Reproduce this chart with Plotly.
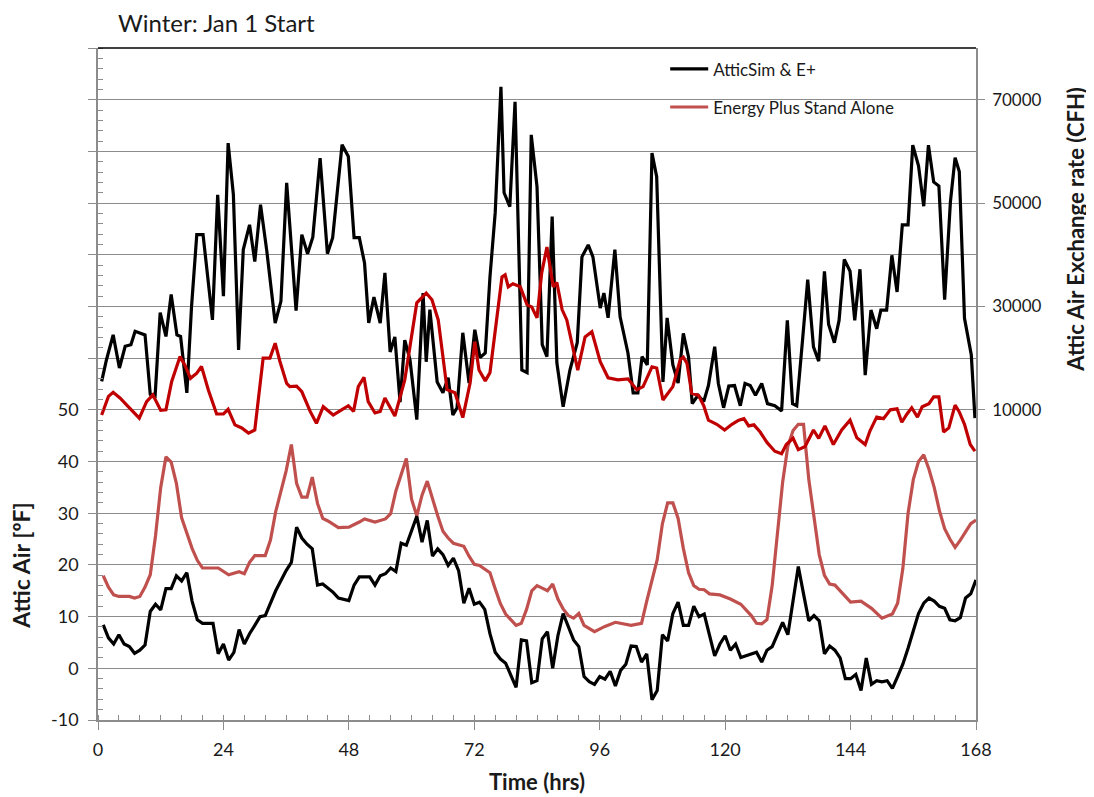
import plotly.graph_objects as go

# attic air temperature (degF), AtticSim & E+
sim_temp_hr = [1, 2, 3, 4, 5, 6, 7, 8, 9, 10, 11, 12, 13, 14, 15, 16, 17, 18, 19, 20, 22, 23, 24, 25, 26, 27,
               28, 29, 30, 31, 32, 33, 34, 36, 37, 38, 39, 40, 41, 42, 43, 45, 46, 48, 49, 50, 52, 53, 54, 55,
               56, 57, 58, 59, 60, 61, 62, 63, 64, 65, 66, 67, 68, 69, 70, 71, 72, 73, 74, 75, 76, 77, 78, 80,
               81, 82, 83, 84, 85, 86, 87, 88, 89, 90, 91, 92, 93, 94, 95, 96, 97, 98, 99, 100, 101, 102, 103,
               104, 105, 106, 107, 108, 109, 110, 111, 112, 113, 114, 115, 116, 117, 118, 119, 120, 121, 122,
               123, 124, 126, 127, 128, 129, 130, 131, 132, 133, 134, 135, 136, 137, 138, 139, 140, 141, 142,
               143, 144, 145, 146, 147, 148, 149, 150, 151, 152, 153, 154, 155, 156, 157, 158, 159, 160, 161,
               162, 163, 164, 165, 166, 167, 168]
sim_temp = [8.4, 5.9, 4.7, 6.5, 4.7, 4.2, 2.9, 3.5, 4.5, 11.0, 12.4, 11.3, 15.4, 15.4, 17.9, 16.9, 18.5, 13.0,
            9.4, 8.7, 8.7, 2.8, 4.7, 1.6, 3.1, 7.5, 4.7, 6.7, 8.3, 10.0, 10.2, 12.6, 15.0, 18.9, 20.5, 27.3,
            25.2, 24.0, 23.1, 16.1, 16.3, 14.7, 13.6, 13.1, 16.1, 17.7, 17.7, 16.1, 17.9, 18.3, 19.4, 18.7,
            24.2, 23.8, 26.4, 29.4, 24.4, 28.6, 21.7, 23.1, 22.0, 19.9, 21.3, 18.9, 12.6, 15.5, 12.4, 12.8,
            11.4, 6.7, 3.1, 1.8, 1.0, -3.7, 5.5, 5.3, -2.8, -2.4, 5.7, 7.1, 0.0, 6.3, 10.6, 7.9, 5.5, 4.2,
            -1.6, -2.6, -3.1, -1.6, -2.1, -0.6, -3.4, -0.4, 0.8, 4.3, 4.2, 1.2, 2.8, -6.1, -4.3, 6.5, 5.3,
            10.6, 12.8, 8.3, 8.3, 12.0, 10.0, 10.5, 6.3, 2.4, 4.7, 6.3, 3.5, 4.7, 2.1, 2.4, 3.1, 1.2, 3.5,
            4.2, 6.7, 8.9, 6.5, 13.0, 19.7, 14.4, 9.2, 10.2, 9.2, 2.8, 4.3, 3.5, 2.0, -2.0, -2.0, -1.2, -4.3,
            2.0, -3.1, -2.4, -2.6, -2.4, -3.9, -1.6, 0.8, 3.9, 7.1, 10.6, 12.6, 13.6, 13.0, 12.0, 11.6, 9.4,
            9.2, 9.8, 13.6, 14.4, 17.1]

# attic air temperature (degF), Energy Plus stand alone
ep_temp_hr = [1, 2, 3, 4, 6, 7, 8, 9, 10, 11, 12, 13, 14, 15, 16, 18, 19, 20, 23, 25, 27, 28, 29, 30, 32, 33,
              34, 36, 37, 38, 39, 40, 41, 42, 43, 44, 46, 48, 50, 51, 53, 55, 56, 57, 59, 60, 61, 62, 63, 64,
              65, 66, 67, 68, 69, 70, 71, 72, 73, 75, 76, 77, 78, 79, 80, 81, 82, 83, 84, 85, 86, 87, 88, 89,
              90, 91, 92, 93, 95, 97, 99, 102, 104, 105, 106, 107, 108, 109, 110, 111, 112, 113, 114, 115, 116,
              117, 119, 121, 123, 125, 126, 127, 128, 129, 130, 131, 132, 133, 134, 135, 136, 137, 138, 139,
              140, 141, 142, 143, 144, 146, 148, 150, 152, 153, 154, 155, 156, 157, 158, 159, 160, 161, 162,
              163, 164, 165, 166, 167, 168]
ep_temp = [17.9, 15.7, 14.2, 13.9, 13.9, 13.6, 13.9, 15.7, 18.1, 25.6, 35.0, 40.9, 39.9, 35.8, 29.1, 23.2, 20.9,
           19.4, 19.4, 18.1, 18.7, 18.3, 20.5, 21.8, 21.8, 24.8, 30.3, 38.2, 43.3, 35.8, 33.1, 33.1, 37.0,
           31.9, 29.0, 28.5, 27.2, 27.3, 28.3, 28.9, 28.3, 28.9, 29.9, 34.3, 40.6, 32.7, 29.5, 33.5, 36.2,
           32.7, 29.5, 26.5, 25.2, 24.2, 23.9, 23.6, 21.7, 20.1, 19.9, 18.5, 15.4, 12.5, 10.5, 9.4, 8.3, 8.7,
           11.4, 15.0, 16.0, 15.5, 15.0, 16.3, 13.4, 11.5, 10.2, 9.7, 10.6, 8.3, 7.1, 8.1, 8.9, 8.3, 8.7,
           13.0, 17.0, 21.0, 28.0, 32.0, 32.0, 29.0, 23.2, 18.5, 16.0, 15.3, 15.2, 14.4, 14.2, 13.4, 12.4,
           10.2, 8.7, 8.6, 9.4, 16.0, 26.0, 36.0, 43.0, 46.0, 47.2, 47.2, 36.6, 29.0, 22.0, 18.0, 16.3, 16.1,
           15.0, 13.8, 12.8, 13.0, 11.6, 9.7, 10.5, 12.6, 19.3, 30.0, 36.5, 40.0, 41.3, 38.5, 35.0, 30.5,
           27.0, 25.0, 23.4, 24.8, 26.5, 28.0, 28.7]

# attic air exchange rate (CFH), AtticSim & E+
sim_cfh_hr = [0.7, 1.6, 2.9, 4.1, 5.2, 6.3, 7.1, 9.0, 10.0, 10.9, 11.9, 13.0, 14.0, 15.1, 15.8, 17.0, 17.9,
              18.9, 20.1, 21.9, 22.9, 24.0, 24.9, 25.9, 26.9, 27.8, 29.0, 30.0, 31.1, 32.3, 33.9, 35.0, 36.1,
              37.9, 39.0, 40.1, 41.1, 42.5, 43.9, 44.9, 46.7, 47.9, 49.0, 50.0, 51.0, 51.8, 52.8, 54.0, 54.9,
              55.9, 56.8, 57.8, 58.7, 59.7, 61.0, 62.2, 62.8, 63.5, 64.9, 66.0, 67.0, 67.9, 68.7, 69.8, 71.0,
              72.1, 73.1, 74.1, 75.0, 76.0, 77.1, 77.7, 78.8, 79.8, 81.1, 82.1, 82.9, 84.0, 85.0, 85.9, 86.9,
              87.8, 89.0, 90.3, 91.7, 92.6, 93.8, 94.7, 96.1, 96.8, 97.6, 98.9, 99.9, 101.4, 102.4, 103.3,
              104.1, 105.1, 106.0, 106.9, 108.1, 108.9, 110.0, 111.0, 112.0, 113.0, 113.7, 114.8, 115.9, 116.8,
              118.0, 118.7, 119.7, 120.7, 121.8, 122.9, 123.8, 124.8, 125.8, 127.0, 128.1, 129.5, 130.8, 131.9,
              132.9, 133.7, 134.8, 135.8, 136.9, 137.9, 139.0, 139.8, 140.9, 141.8, 142.8, 143.9, 144.8, 145.8,
              146.8, 147.9, 149.0, 149.8, 150.9, 151.9, 152.9, 153.9, 155.0, 155.9, 157.0, 158.0, 158.9, 159.9,
              160.9, 162.0, 163.1, 164.0, 164.8, 165.8, 167.1, 167.8]
sim_cfh = [15500, 19600, 24500, 18100, 22300, 22600, 25200, 24500, 13000, 12300, 28800, 24200, 32300, 24500,
           24200, 13300, 30000, 43900, 43900, 27400, 51600, 32000, 61600, 51700, 21600, 41000, 45800, 38700,
           49700, 40700, 26800, 31000, 53900, 29200, 43900, 40200, 43400, 58700, 40200, 43300, 61300, 59000,
           43300, 43300, 38400, 26800, 31800, 26800, 36500, 21200, 24100, 11500, 23500, 19700, 8100, 32600,
           19300, 29400, 15400, 13300, 16200, 9000, 10400, 24900, 15200, 25500, 20100, 21000, 35700, 48100,
           72500, 52000, 49300, 69600, 17700, 17200, 63200, 53200, 22600, 20300, 47400, 19100, 10600, 17700,
           23000, 39600, 41900, 39600, 29700, 32600, 27800, 41000, 28000, 21000, 13300, 13300, 20300, 18700,
           59700, 55100, 15400, 27800, 18700, 15200, 24800, 20200, 11200, 12800, 11600, 14700, 22200, 15100,
           10400, 14600, 14700, 10800, 15100, 14700, 12800, 15100, 11200, 10800, 9800, 27300, 11200, 10800,
           23400, 35200, 22200, 19400, 36800, 26500, 23000, 27300, 39100, 36800, 27300, 37200, 16700, 29300,
           25700, 29300, 29300, 39900, 32800, 45800, 45800, 61200, 57200, 49400, 61200, 54100, 53300, 31300,
           50200, 58800, 56100, 27700, 20600, 8400]

# attic air exchange rate (CFH), Energy Plus stand alone
ep_cfh_hr = [0.7, 2.0, 2.9, 4.2, 6.1, 7.9, 9.3, 10.5, 12.0, 13.0, 14.1, 15.7, 16.6, 17.7, 18.9, 19.8, 21.1,
             22.7, 24.0, 24.9, 26.2, 27.5, 28.8, 30.0, 31.6, 32.9, 33.9, 34.8, 36.1, 36.7, 38.0, 39.0, 40.6,
             41.8, 43.1, 45.0, 46.6, 47.9, 48.9, 49.8, 50.9, 51.7, 53.0, 54.0, 54.9, 56.8, 58.7, 61.0, 62.8,
             63.9, 65.1, 66.8, 68.3, 69.8, 71.2, 72.1, 72.9, 74.1, 75.0, 77.3, 77.9, 78.5, 79.4, 80.8, 82.1,
             83.0, 84.0, 84.9, 85.9, 87.1, 87.8, 88.8, 89.7, 91.8, 93.2, 94.5, 96.1, 97.6, 99.5, 101.4, 103.1,
             104.3, 106.0, 106.9, 108.1, 110.0, 111.4, 112.0, 112.7, 113.6, 114.9, 115.9, 116.8, 118.4, 119.9,
             121.3, 122.6, 123.6, 124.5, 125.5, 126.7, 128.0, 129.5, 130.8, 131.7, 133.0, 134.0, 135.3, 136.9,
             137.9, 139.1, 140.7, 142.3, 143.9, 145.2, 146.8, 147.7, 149.0, 150.3, 151.6, 152.9, 153.8, 154.8,
             155.7, 156.8, 157.7, 159.0, 159.9, 160.9, 161.8, 162.8, 164.0, 164.8, 165.8, 166.9, 167.8]
ep_cfh = [9000, 12600, 13400, 12300, 10300, 8400, 11600, 12900, 9900, 10000, 15500, 20300, 18700, 16100, 17100,
          18400, 13900, 9200, 9200, 10100, 7100, 6500, 5500, 6100, 20000, 20000, 22900, 19400, 15100, 14500,
          14600, 13500, 9700, 7400, 10600, 9000, 10000, 10800, 9700, 14500, 16300, 11600, 9400, 9700, 12300,
          8800, 15800, 30700, 32600, 31300, 27400, 13900, 13300, 8500, 15200, 23200, 17700, 15600, 17200,
          35700, 36100, 33800, 34400, 33800, 30300, 29900, 27800, 36500, 41500, 33800, 34600, 29400, 27400,
          17700, 24100, 25100, 19300, 16200, 15800, 16000, 13900, 14500, 18300, 18100, 11900, 14500, 19700,
          20200, 19000, 13200, 12800, 10800, 8000, 7200, 6100, 7200, 8000, 8300, 6900, 7100, 5700, 3700,
          2000, 1500, 3300, 4500, 2300, 2900, 6100, 4500, 6900, 3300, 6100, 8000, 4600, 3300, 5900, 8600,
          8300, 10000, 10200, 7600, 9200, 10400, 8600, 10600, 11200, 12500, 12500, 5700, 6500, 10900, 9600,
          7200, 3300, 2000]

x_ticks = list(range(0, 169, 24))
left_ticks = list(range(-10, 121, 10))
left_labels = [str(v) if v <= 50 else "" for v in left_ticks]
right_ticks = [10000, 30000, 50000, 70000]

BLACK = "#000000"
LIGHT_RED = "#C0504D"
DARK_RED = "#C00000"
GRID = "#8C8C8C"
TEXT = "#1A1A1A"
FONT = "Lato, 'Open Sans', sans-serif"

# the page body has an 8px margin, so the figure is drawn 8px smaller
W, H = 1086, 789

fig = go.Figure()
fig.add_trace(go.Scatter(
    x=sim_cfh_hr, y=sim_cfh, yaxis="y2", mode="lines",
    line={"color": BLACK, "width": 3.2}, showlegend=False,
))
fig.add_trace(go.Scatter(
    x=ep_cfh_hr, y=ep_cfh, yaxis="y2", mode="lines",
    line={"color": DARK_RED, "width": 3.2}, showlegend=False,
))
fig.add_trace(go.Scatter(
    x=ep_temp_hr, y=ep_temp, mode="lines", name="Energy Plus Stand Alone",
    line={"color": LIGHT_RED, "width": 3.2}, legendgroup="b", legendrank=2,
))
fig.add_trace(go.Scatter(
    x=sim_temp_hr, y=sim_temp, mode="lines", name="AtticSim & E+",
    line={"color": BLACK, "width": 3.2}, legendgroup="a", legendrank=1,
))

fig.update_layout(
    width=W,
    height=H,
    paper_bgcolor="white",
    plot_bgcolor="white",
    font={"family": FONT, "color": TEXT, "size": 16},
    margin={"l": 90, "r": 118, "t": 40, "b": 77},
    title={
        "text": "Winter: Jan 1 Start",
        "x": 110 / W, "xanchor": "left",
        "y": 1 - 16 / H, "yanchor": "middle",
        "font": {"size": 24, "color": TEXT, "family": FONT},
    },
    legend={
        "x": 0.646, "y": 0.995, "xanchor": "left", "yanchor": "top",
        "bgcolor": "rgba(255,255,255,0)",
        "font": {"size": 17, "color": TEXT},
        "tracegroupgap": 13,
        "itemwidth": 38,
    },
    xaxis={
        "range": [0, 168],
        "tickvals": x_ticks,
        "ticks": "outside", "ticklen": 8, "tickcolor": GRID,
        "minor": {"dtick": 4, "ticks": "inside", "ticklen": 5, "tickcolor": GRID, "showgrid": False},
        "showline": True, "linecolor": GRID, "linewidth": 1.5,
        "showgrid": False, "zeroline": False,
        "tickfont": {"size": 18},
        "ticklabelstandoff": 5,
    },
    yaxis={
        "range": [-10, 120],
        "tickvals": left_ticks, "ticktext": left_labels,
        "ticks": "outside", "ticklen": 8, "tickcolor": GRID,
        "minor": {"dtick": 2, "ticks": "inside", "ticklen": 5, "tickcolor": GRID, "showgrid": False},
        "showline": True, "linecolor": GRID, "linewidth": 1.5,
        "showgrid": True, "gridcolor": GRID, "gridwidth": 1.2,
        "zeroline": False,
        "tickfont": {"size": 18},
        "ticklabelstandoff": 6,
    },
    yaxis2={
        "range": [-50000, 80000],
        "overlaying": "y", "side": "right",
        "tickvals": right_ticks, "tickformat": "d",
        "ticks": "outside", "ticklen": 7, "tickcolor": GRID,
        "showline": True, "linecolor": GRID, "linewidth": 1.5,
        "showgrid": False, "zeroline": False,
        "tickfont": {"size": 17},
        "ticklabelstandoff": 4,
    },
)

fig.add_shape(type="line", xref="paper", yref="paper", x0=0, x1=1, y0=1, y1=1,
              line={"color": BLACK, "width": 1.5})

fig.add_annotation(text="<b>Attic Air [ºF]</b>", xref="paper", yref="y", x=-0.088, y=20,
                   xanchor="center", yanchor="middle",
                   textangle=-90, showarrow=False, font={"size": 23, "color": TEXT})
fig.add_annotation(text="<b>Attic Air Exchange rate (CFH)</b>", xref="paper", yref="paper",
                   x=1.113, y=0.73, xanchor="center", yanchor="middle",
                   textangle=-90, showarrow=False, font={"size": 22, "color": TEXT})
fig.add_annotation(text="<b>Time (hrs)</b>", xref="paper", yref="paper", x=0.5, y=-0.092,
                   xanchor="center", yanchor="middle", showarrow=False, font={"size": 22, "color": TEXT})

fig.write_html("out.html")
